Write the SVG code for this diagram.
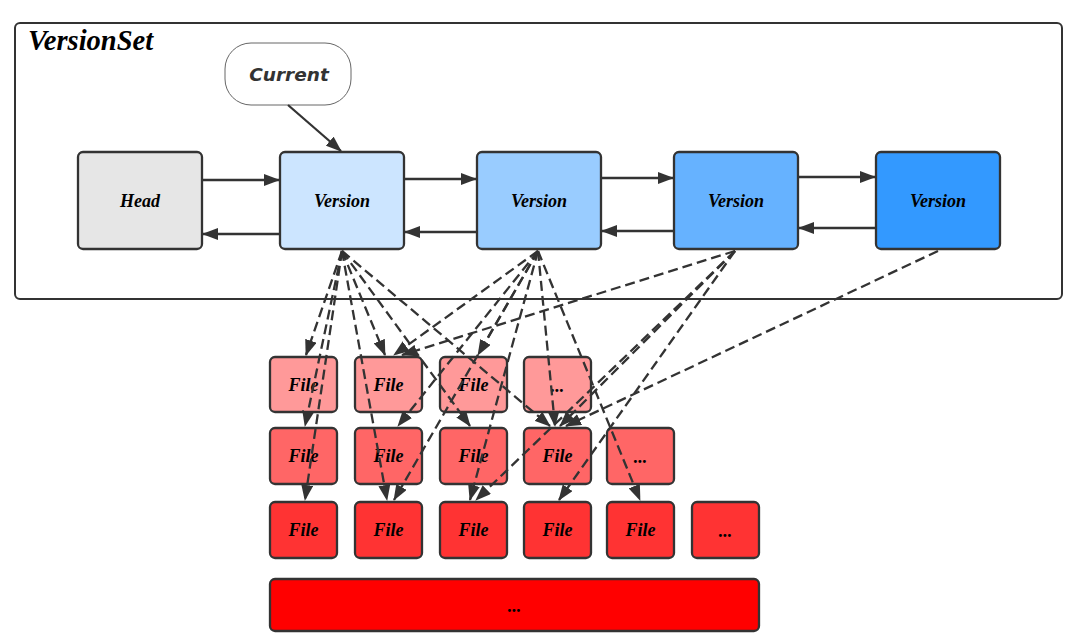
<svg xmlns="http://www.w3.org/2000/svg" width="1080" height="643" viewBox="0 0 1080 643">
<defs>
<marker id="ah" markerUnits="userSpaceOnUse" markerWidth="16" markerHeight="12" refX="15" refY="6" orient="auto">
<path d="M0,0 L16,6 L0,12 z" fill="#333"/>
</marker>
<marker id="ahd" markerUnits="userSpaceOnUse" markerWidth="16" markerHeight="12" refX="15" refY="6" orient="auto">
<path d="M0,0 L16,6 L0,12 z" fill="#333"/>
</marker>
</defs>
<style>
.box{stroke:#333;stroke-width:2.3}
.lbl{font-family:"Liberation Serif","Times New Roman",serif;font-weight:bold;font-style:italic;font-size:18px;fill:#000;text-anchor:middle}
.solid{stroke:#333;stroke-width:2.3;fill:none;marker-end:url(#ah)}
.dash{stroke:#333;stroke-width:2.3;fill:none;stroke-dasharray:10,5;marker-end:url(#ahd)}
</style>
<rect width="1080" height="643" fill="#fff"/>
<g id="versionset">
<rect x="15" y="23" width="1047" height="276" rx="5" fill="none" stroke="#333" stroke-width="2"/>
<text x="28" y="50" font-family="Liberation Serif,serif" font-weight="bold" font-style="italic" font-size="28.5" fill="#000">VersionSet</text>
</g>
<g id="current">
<rect x="225" y="43" width="126" height="62" rx="26" fill="#fff" stroke="#666" stroke-width="1"/>
<text x="289" y="81" font-family="DejaVu Sans,sans-serif" font-weight="bold" font-style="italic" font-size="18.5" fill="#333" text-anchor="middle">Current</text>
</g>
<g id="head"><rect class="box" x="78" y="152" width="124" height="97" rx="5" fill="#e6e6e6"/><text class="lbl" x="140" y="207">Head</text></g>
<g id="version1"><rect class="box" x="280" y="152" width="124" height="97" rx="5" fill="#cce5ff"/><text class="lbl" x="342" y="207">Version</text></g>
<g id="version2"><rect class="box" x="477" y="152" width="124" height="97" rx="5" fill="#99ccff"/><text class="lbl" x="539" y="207">Version</text></g>
<g id="version3"><rect class="box" x="674" y="152" width="124" height="97" rx="5" fill="#66b2ff"/><text class="lbl" x="736" y="207">Version</text></g>
<g id="version4"><rect class="box" x="876" y="152" width="124" height="97" rx="5" fill="#3399ff"/><text class="lbl" x="938" y="207">Version</text></g>
<g id="files-row1">
<g id="f11"><rect class="box" x="270" y="357" width="67" height="55" rx="5" fill="#ff9999"/><text class="lbl" x="303.5" y="391">File</text></g>
<g id="f12"><rect class="box" x="355" y="357" width="67" height="55" rx="5" fill="#ff9999"/><text class="lbl" x="388.5" y="391">File</text></g>
<g id="f13"><rect class="box" x="440" y="357" width="67" height="55" rx="5" fill="#ff9999"/><text class="lbl" x="473.5" y="391">File</text></g>
<g id="f14"><rect class="box" x="524" y="357" width="67" height="55" rx="5" fill="#ff9999"/><text class="lbl" x="557.5" y="392">...</text></g>
</g>
<g id="files-row2">
<g id="f21"><rect class="box" x="270" y="428" width="67" height="56" rx="5" fill="#ff6666"/><text class="lbl" x="303.5" y="462">File</text></g>
<g id="f22"><rect class="box" x="355" y="428" width="67" height="56" rx="5" fill="#ff6666"/><text class="lbl" x="388.5" y="462">File</text></g>
<g id="f23"><rect class="box" x="440" y="428" width="67" height="56" rx="5" fill="#ff6666"/><text class="lbl" x="473.5" y="462">File</text></g>
<g id="f24"><rect class="box" x="524" y="428" width="67" height="56" rx="5" fill="#ff6666"/><text class="lbl" x="557.5" y="462">File</text></g>
<g id="f25"><rect class="box" x="607" y="428" width="67" height="56" rx="5" fill="#ff6666"/><text class="lbl" x="640.5" y="463">...</text></g>
</g>
<g id="files-row3">
<g id="f31"><rect class="box" x="270" y="502" width="67" height="56" rx="5" fill="#ff3333"/><text class="lbl" x="303.5" y="536">File</text></g>
<g id="f32"><rect class="box" x="355" y="502" width="67" height="56" rx="5" fill="#ff3333"/><text class="lbl" x="388.5" y="536">File</text></g>
<g id="f33"><rect class="box" x="440" y="502" width="67" height="56" rx="5" fill="#ff3333"/><text class="lbl" x="473.5" y="536">File</text></g>
<g id="f34"><rect class="box" x="524" y="502" width="67" height="56" rx="5" fill="#ff3333"/><text class="lbl" x="557.5" y="536">File</text></g>
<g id="f35"><rect class="box" x="607" y="502" width="67" height="56" rx="5" fill="#ff3333"/><text class="lbl" x="640.5" y="536">File</text></g>
<g id="f36"><rect class="box" x="692" y="502" width="67" height="56" rx="5" fill="#ff3333"/><text class="lbl" x="725.5" y="537">...</text></g>
</g>
<g id="level-bar"><rect class="box" x="270" y="579" width="489" height="52" rx="5" fill="#ff0000"/><text class="lbl" x="514.5" y="612" font-size="16">...</text></g>
<g id="connectors">
<line class="solid" x1="288" y1="105" x2="341" y2="151"/>
<line class="solid" x1="202" y1="180" x2="279" y2="180"/>
<line class="solid" x1="280" y1="234" x2="203" y2="234"/>
<line class="solid" x1="404" y1="179" x2="476" y2="179"/>
<line class="solid" x1="477" y1="232" x2="405" y2="232"/>
<line class="solid" x1="601" y1="178" x2="673" y2="178"/>
<line class="solid" x1="674" y1="231" x2="602" y2="231"/>
<line class="solid" x1="798" y1="177" x2="875" y2="177"/>
<line class="solid" x1="876" y1="228" x2="799" y2="228"/>
<line class="dash" x1="342" y1="251" x2="306" y2="355"/>
<line class="dash" x1="342" y1="251" x2="305" y2="426"/>
<line class="dash" x1="342" y1="251" x2="305" y2="500"/>
<line class="dash" x1="342" y1="251" x2="385" y2="355"/>
<line class="dash" x1="342" y1="251" x2="387" y2="500"/>
<line class="dash" x1="342" y1="251" x2="470" y2="426"/>
<line class="dash" x1="342" y1="251" x2="550" y2="426"/>
<line class="dash" x1="538" y1="251" x2="394" y2="355"/>
<line class="dash" x1="538" y1="251" x2="398" y2="426"/>
<line class="dash" x1="538" y1="251" x2="478" y2="355"/>
<line class="dash" x1="538" y1="251" x2="394" y2="500"/>
<line class="dash" x1="538" y1="251" x2="470" y2="500"/>
<line class="dash" x1="538" y1="251" x2="555" y2="426"/>
<line class="dash" x1="538" y1="251" x2="640" y2="500"/>
<line class="dash" x1="735" y1="251" x2="402" y2="355"/>
<line class="dash" x1="735" y1="251" x2="560" y2="426"/>
<line class="dash" x1="735" y1="251" x2="476" y2="500"/>
<line class="dash" x1="735" y1="251" x2="559" y2="500"/>
<line class="dash" x1="938" y1="251" x2="566" y2="426"/>
</g>
</svg>
